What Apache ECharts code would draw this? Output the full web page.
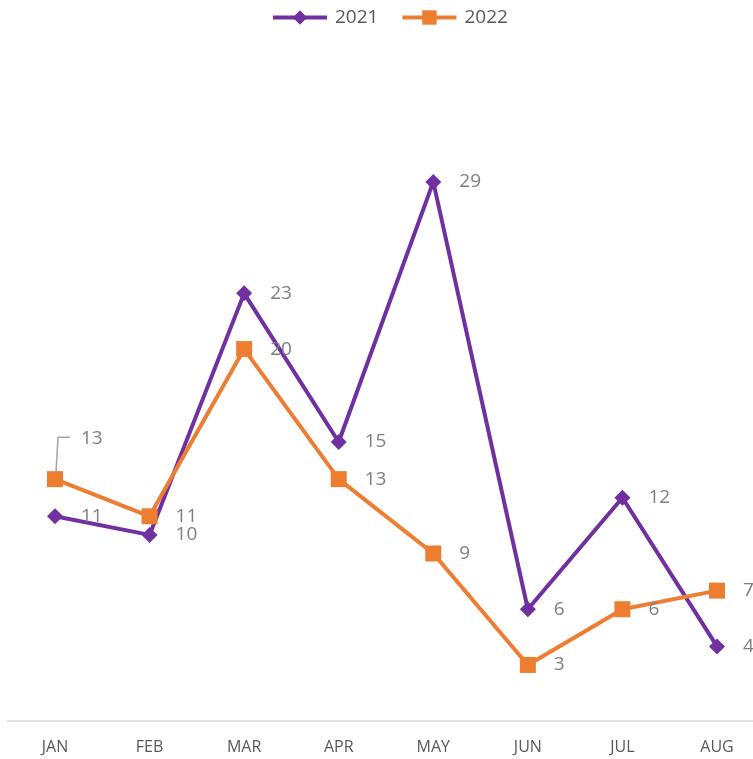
<!DOCTYPE html>
<html>
<head>
<meta charset="utf-8">
<script src="https://cdn.jsdelivr.net/npm/echarts@6/dist/echarts.min.js"></script>
<style>html,body{margin:0;padding:0;background:#fff;overflow:hidden;width:753px;height:759px}#c{width:765px;height:759px}</style>
</head>
<body>
<div id="c"></div>
<script>
const categories = ['JAN', 'FEB', 'MAR', 'APR', 'MAY', 'JUN', 'JUL', 'AUG'];
const seriesNames = ['2021', '2022'];
const values2021 = [11, 10, 23, 15, 29, 6, 12, 4];
const values2022 = [13, 11, 20, 13, 9, 3, 6, 7];

const chart = echarts.init(document.getElementById('c'), null, {renderer: 'canvas'});
const labelStyle = {show: true, position: 'right', distance: 18, color: '#7f7f7f', fontSize: 19, fontFamily: 'Open Sans'};
const data2022 = values2022.map(function (v, i) {
  if (i === 0) return {value: v, label: {offset: [0, -41]}};
  return v;
});
chart.setOption({
  animation: false,
  legend: {
    top: 3, left: 266,
    itemWidth: 54, itemHeight: 18, itemGap: 22,
    lineStyle: {width: 4},
    textStyle: {fontSize: 19, color: '#595959', fontFamily: 'Open Sans', padding: [0, 0, 0, 3]},
    data: seriesNames
  },
  grid: {left: 7.7, right: 0.7, top: 70.4, bottom: 38.3, containLabel: false},
  xAxis: {
    type: 'category', data: categories, boundaryGap: true,
    axisLine: {lineStyle: {color: '#d9d9d9', width: 1.5}},
    axisTick: {show: false},
    axisLabel: {margin: 19, fontSize: 16, color: '#595959', fontFamily: 'Open Sans'}
  },
  yAxis: {type: 'value', min: 0, max: 35, show: false, splitLine: {show: false}},
  series: [
    {
      name: seriesNames[0], type: 'line', data: values2021,
      symbol: 'diamond', symbolSize: 16,
      lineStyle: {color: '#7030a0', width: 4},
      itemStyle: {color: '#7030a0'},
      label: labelStyle, z: 2
    },
    {
      name: seriesNames[1], type: 'line', data: data2022,
      symbol: 'rect', symbolSize: 16,
      lineStyle: {color: '#ed7d31', width: 4},
      itemStyle: {color: '#ed7d31'},
      label: labelStyle, z: 3
    }
  ]
});
// leader line for the JAN 2022 label, positioned through the chart's scales
const p = chart.convertToPixel({seriesIndex: 1}, [0, values2022[0]]);
chart.setOption({
  graphic: [{
    type: 'polyline', z: 1,
    shape: {points: [[p[0] + 1, p[1] - 6], [p[0] + 3, p[1] - 42], [p[0] + 15, p[1] - 42]]},
    style: {stroke: '#a6a6a6', lineWidth: 1.5, fill: null}
  }]
});
</script>
</body>
</html>
